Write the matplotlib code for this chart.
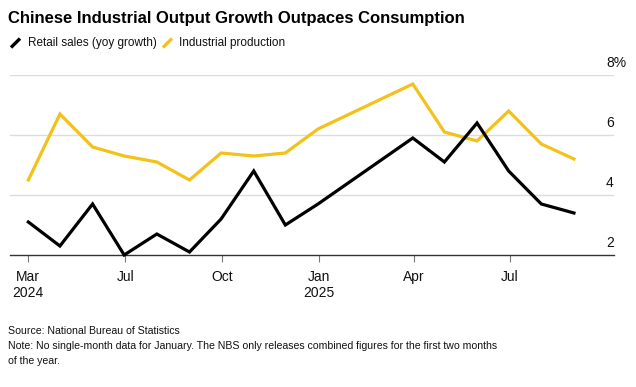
import matplotlib
matplotlib.use("Agg")
import matplotlib.pyplot as plt
import matplotlib.dates as mdates
import matplotlib.transforms as mtrans
import pandas as pd
from matplotlib.lines import Line2D

plt.rcParams['font.family'] = ['Liberation Sans', 'DejaVu Sans']

# Data (month-end dates; no single-month January data)
months = ["2024-03", "2024-04", "2024-05", "2024-06", "2024-07", "2024-08",
          "2024-09", "2024-10", "2024-11", "2024-12",
          "2025-03", "2025-04", "2025-05", "2025-06", "2025-07", "2025-08"]
retail_sales = [3.1, 2.3, 3.7, 2.0, 2.7, 2.1, 3.2, 4.8, 3.0, 3.7,
                5.9, 5.1, 6.4, 4.8, 3.7, 3.4]
industrial_production = [4.5, 6.7, 5.6, 5.3, 5.1, 4.5, 5.4, 5.3, 5.4, 6.2,
                         7.7, 6.1, 5.8, 6.8, 5.7, 5.2]

tick_dates = ["2024-03-31", "2024-07-01", "2024-10-01", "2025-01-01", "2025-04-01", "2025-07-01"]
tick_labels = ["Mar\n2024", "Jul", "Oct", "Jan\n2025", "Apr", "Jul"]
y_ticks = [2, 4, 6, 8]
y_labels = ["2", "4", "6", "8%"]

title = "Chinese Industrial Output Growth Outpaces Consumption"
legend_labels = ["Retail sales (yoy growth)", "Industrial production"]
source = "Source: National Bureau of Statistics"
note_lines = ["Note: No single-month data for January. The NBS only releases combined figures for the first two months",
              "of the year."]

BLACK = "#000000"
YELLOW = "#F2C21B"
GRID = "#dcdcdc"

dates = [pd.Period(m).end_time.normalize() for m in months]
x = mdates.date2num(dates)

W, H = 636, 387
fig = plt.figure(figsize=(W / 100, H / 100), dpi=100)
fig.patch.set_facecolor("white")

ax_left, ax_right = 10, 614
ax_top, ax_bottom = 75, 255
ax = fig.add_axes([ax_left / W, (H - ax_bottom) / H, (ax_right - ax_left) / W, (ax_bottom - ax_top) / H])

ax.plot(x, industrial_production, color=YELLOW, lw=2.3, solid_joinstyle="miter", clip_on=False, zorder=3)
ax.plot(x, retail_sales, color=BLACK, lw=2.3, solid_joinstyle="miter", clip_on=False, zorder=4)

x0 = mdates.date2num(pd.Timestamp("2024-03-31"))
ax.set_xlim(x0 - 17.4, x0 + 518 + 38.0)
ax.set_ylim(2, 8)

for s in ["top", "left", "right"]:
    ax.spines[s].set_visible(False)
ax.spines["bottom"].set_color("#333333")
ax.spines["bottom"].set_linewidth(1.0)

for v in y_ticks[1:]:
    ax.axhline(v, color=GRID, lw=1.0, zorder=1)
ax.set_yticks([])

ax.set_xticks(mdates.date2num([pd.Timestamp(d) for d in tick_dates]))
ax.set_xticklabels(tick_labels, fontsize=10, linespacing=1.2)
ax.tick_params(axis="x", length=5, width=0.8, color="#777777", pad=5.5, labelcolor="#111111")

for v, lab in zip(y_ticks, y_labels):
    tr = mtrans.offset_copy(mtrans.blended_transform_factory(ax.transAxes, ax.transData),
                            fig=fig, x=-8.0, y=8.0, units="dots")
    ax.text(1.0, v, lab, transform=tr, ha="left", va="baseline", fontsize=10, color="#111111")

fig.text(8 / W, 1 - 18 / H, title, fontsize=12.0, fontweight="bold", ha="left", va="center", color="#000000")

# legend
def slash(x0p, color):
    l = Line2D([x0p / W, (x0p + 9) / W], [1 - 47.5 / H, 1 - 38.5 / H], transform=fig.transFigure,
               color=color, lw=2.4, solid_capstyle="butt")
    fig.add_artist(l)

slash(11, BLACK)
fig.text(28 / W, 1 - 43 / H, legend_labels[0], fontsize=8.5, ha="left", va="center", color="#111111")
slash(163, YELLOW)
fig.text(179 / W, 1 - 43 / H, legend_labels[1], fontsize=8.5, ha="left", va="center", color="#111111")

fig.text(8 / W, 1 - 330.5 / H, source, fontsize=7.6, ha="left", va="center", color="#111111")
fig.text(8 / W, 1 - 346 / H, note_lines[0], fontsize=7.6, ha="left", va="center", color="#111111")
fig.text(8 / W, 1 - 361 / H, note_lines[1], fontsize=7.6, ha="left", va="center", color="#111111")
fig.savefig("out.png", dpi=100, facecolor="white")
